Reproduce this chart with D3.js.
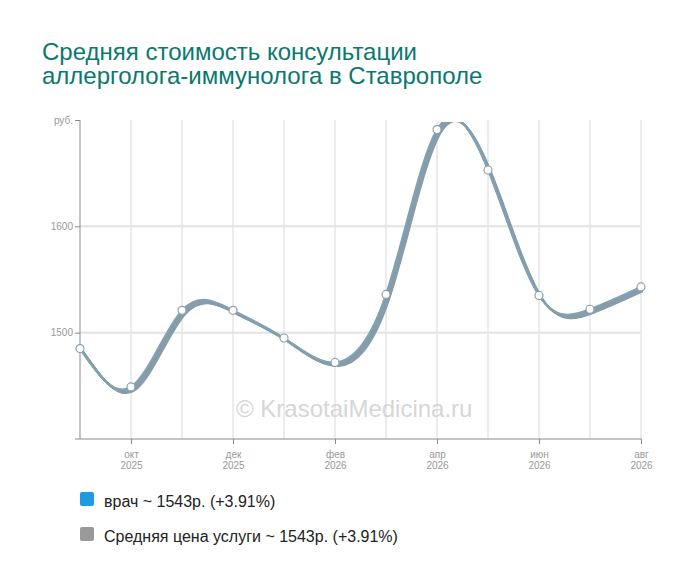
<!DOCTYPE html>
<html><head><meta charset="utf-8">
<script src="https://cdn.jsdelivr.net/npm/d3@7"></script>
<style>body{margin:0;background:#fff;font-family:"Liberation Sans",Arial,sans-serif}</style>
</head><body><svg id="c" width="700" height="583"></svg>
<script>
const months = ["сен","окт","ноя","дек","янв","фев","мар","апр","май","июн","июл","авг"];
const years  = ["2025","2025","2025","2025","2026","2026","2026","2026","2026","2026","2026","2026"];
const doctorValues = [1485,1449,1521,1521,1495,1472,1536,1691,1653,1535,1522,1543];
const avgValues    = [1485,1449,1521,1521,1495,1472,1536,1691,1653,1535,1522,1543];
const yTicks = [1500,1600];
const seriesNames = ["врач ~ 1543р. (+3.91%)","Средняя цена услуги ~ 1543р. (+3.91%)"];
const titleLines = ["Средняя стоимость консультации","аллерголога-иммунолога в Ставрополе"];

const svg = d3.select("#c");
const L=80, R=641, T=120, B=439;
const x = d3.scalePoint().domain(d3.range(months.length)).range([L,R]);
const y = d3.scaleLinear().domain([1400,1700]).range([B,T]);

const title = svg.append("text").attr("fill","#0b786e").attr("font-size",24);
title.selectAll("tspan").data(titleLines).enter().append("tspan")
  .attr("x",42).attr("y",(d,i)=>60+i*23.5).text(d=>d);

// grid
svg.append("g").selectAll("line").data(d3.range(1,months.length)).enter().append("line")
  .attr("x1",i=>x(i)).attr("x2",i=>x(i)).attr("y1",T).attr("y2",B)
  .attr("stroke","#d9d9d9").attr("stroke-width",1);
svg.append("g").selectAll("line").data(yTicks).enter().append("line")
  .attr("x1",L).attr("x2",R).attr("y1",d=>y(d)).attr("y2",d=>y(d))
  .attr("stroke","#e3e3e3").attr("stroke-width",2);

// watermark
svg.append("text").attr("x",236).attr("y",417).attr("font-size",24).attr("fill","#d6d6d6")
  .text("© KrasotaiMedicina.ru");

// axes
const ya = svg.append("g").attr("transform",`translate(${L},0)`)
  .call(d3.axisLeft(y).tickValues(yTicks.concat([1700])).tickSize(5).tickFormat(d=>d===1700?"руб.":d));
ya.select(".domain").attr("stroke","#8a8a8a").attr("d",`M0,${T}V${B}`);
ya.selectAll(".tick line").attr("stroke","#8a8a8a");
ya.selectAll(".tick text").attr("fill","#999").attr("font-size",10).attr("font-family","Liberation Sans, Arial").attr("x",-7);

const xa = svg.append("g").attr("transform",`translate(0,${B})`)
  .call(d3.axisBottom(x).tickValues(d3.range(1,months.length,2)).tickSize(5).tickFormat(""));
xa.select(".domain").attr("stroke","#8a8a8a").attr("d",`M${L-5},0H${R}`);
xa.selectAll(".tick line").attr("stroke","#8a8a8a");
const xl = xa.selectAll(".tick").append("text").attr("fill","#999").attr("font-size",10)
  .attr("text-anchor","middle").attr("font-family","Liberation Sans, Arial");
xl.append("tspan").attr("x",0).attr("y",19).text(i=>months[i]);
xl.append("tspan").attr("x",0).attr("y",30).text(i=>years[i]);

// lines
svg.append("clipPath").attr("id","clip").append("rect").attr("x",L).attr("y",T+2).attr("width",R-L+2).attr("height",B-T-2);
const line = d3.line().x((d,i)=>x(i)).y(d=>y(d)).curve(d3.curveNatural);
const lg = svg.append("g").attr("clip-path","url(#clip)");
const offs = [3.5,3,2.5,2,1.5,1,0.5,0];
offs.forEach((k,j)=>{
  lg.append("path").datum(j%2?doctorValues:avgValues).attr("d",line)
    .attr("transform",`translate(${k},${k})`).attr("fill","none")
    .attr("stroke", j%2 ? "#80a2b6" : "#8c989f").attr("stroke-width",2);
});
svg.append("g").selectAll("circle").data(doctorValues).enter().append("circle")
  .attr("cx",(d,i)=>x(i)).attr("cy",d=>y(d)).attr("r",4)
  .attr("fill","#fff").attr("stroke","#8aa0ae").attr("stroke-width",1.2);

// legend
const legColors = ["#1e9be0","#999999"];
const lgd = svg.append("g");
seriesNames.forEach((n,i)=>{
  lgd.append("rect").attr("x",80).attr("y",492+i*35).attr("width",14).attr("height",14).attr("rx",2).attr("fill",legColors[i]);
  lgd.append("text").attr("x",104).attr("y",507+i*34.5).attr("font-size",16).attr("fill","#222").text(n);
});
</script></body></html>
